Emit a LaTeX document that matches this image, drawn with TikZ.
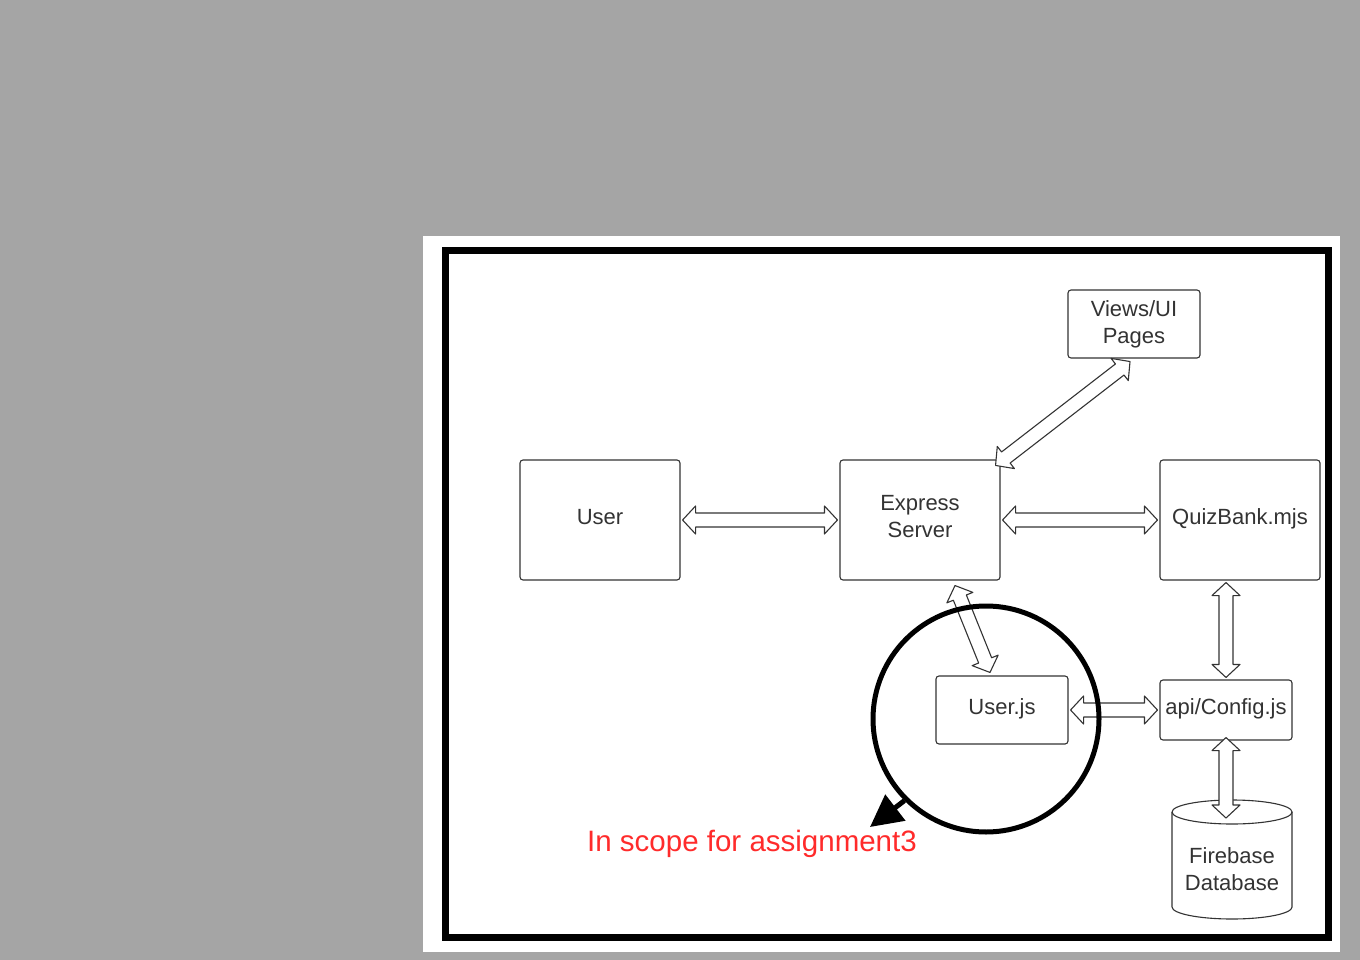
\documentclass[tikz,border=0pt]{standalone}
\usepackage{fontspec}
\setmainfont{Liberation Sans}
\usetikzlibrary{calc,arrows.meta}
\definecolor{bg}{HTML}{A5A5A5}
\definecolor{ink}{HTML}{333333}
\definecolor{redtxt}{HTML}{FF2B2B}
\newcommand\dblarrow[2]{%
  \path (#1) coordinate (da) (#2) coordinate (db);
  \path ($(da)!13pt!(db)$) coordinate (dah) ($(db)!13pt!(da)$) coordinate (dbh);
  \draw[arr] (da) -- ($(dah)!14pt!90:(db)$) -- ($(dah)!7pt!90:(db)$)
    -- ($(dbh)!7pt!-90:(da)$) -- ($(dbh)!14pt!-90:(da)$) -- (db)
    -- ($(dbh)!14pt!90:(da)$) -- ($(dbh)!7pt!90:(da)$)
    -- ($(dah)!7pt!-90:(db)$) -- ($(dah)!14pt!-90:(db)$) -- cycle;}
\tikzset{
  box/.style={draw=ink, line width=1.1pt, rounded corners=3pt, align=center,
    font=\fontsize{22}{27}\selectfont, text=ink, inner sep=1pt},
  arr/.style={draw=ink, line width=1.1pt, fill=white, line join=round},
}
\begin{document}
\begin{tikzpicture}[x=1pt,y=-1pt]
\useasboundingbox (0,0) rectangle (1360,960);
\fill[bg] (0,0) rectangle (1360,960);
\fill[white] (423,236) rectangle (1340,952);
\draw[black, line width=7pt] (445.5,250.5) rectangle (1328,937.5);

\node[box, minimum width=132pt, minimum height=68pt] (views) at (1134,324) {Views/UI\\Pages};
\node[box, minimum width=160pt, minimum height=120pt, text depth=7pt] (user) at (600,520) {User};
\node[box, minimum width=160pt, minimum height=120pt, text depth=7.5pt] (express) at (920,520) {Express\\Server};
\node[box, minimum width=160pt, minimum height=120pt, text depth=6pt] (quiz) at (1240,520) {QuizBank.mjs};
\node[box, minimum width=132pt, minimum height=68pt, text depth=7pt] (userjs) at (1002,710) {User.js};
\node[box, minimum width=132pt, minimum height=60pt, text depth=6pt] (api) at (1226,710) {api/Config.js};
\node[align=center, font=\fontsize{22}{27}\selectfont, text=ink, inner sep=0pt] (fb) at (1232,869) {Firebase\\Database};
\draw[ink, line width=1.1pt] ($(fb.center)+(-60,-57)$) arc[start angle=180, end angle=-180, x radius=60pt, y radius=12pt];
\draw[ink, line width=1.1pt] ($(fb.center)+(-60,-57)$) -- ($(fb.center)+(-60,38)$)
  arc[start angle=180, end angle=360, x radius=60pt, y radius=12pt] -- ($(fb.center)+(60,-57)$);

\coordinate (a1) at ($(user.east)+(2,0)$);
\coordinate (a2) at ($(express.west)+(-2,0)$);
\coordinate (b1) at ($(express.east)+(2,0)$);
\coordinate (b2) at ($(quiz.west)+(-2,0)$);
\coordinate (c1) at ($(views.south)+(-4,3)$);
\coordinate (c2) at ($(express.north east)+(-5,6)$);
\coordinate (d1) at ($(express.south)+(35,5)$);
\coordinate (d2) at ($(userjs.north)+(-12,-3)$);
\coordinate (e1) at ($(quiz.south)+(-14,2)$);
\coordinate (e2) at ($(api.north)+(0,-2)$);
\coordinate (f1) at ($(userjs.east)+(2,0)$);
\coordinate (f2) at ($(api.west)+(-2,0)$);
\coordinate (g1) at ($(api.south)+(0,-3)$);
\coordinate (g2) at ($(fb.center)+(-6,-51)$);

\dblarrow{a1}{a2}
\dblarrow{b1}{b2}
\dblarrow{c1}{c2}
\dblarrow{d1}{d2}
\dblarrow{e1}{e2}
\dblarrow{f1}{f2}
\dblarrow{g1}{g2}

\node[circle, draw=black, line width=5pt, minimum size=226pt, inner sep=0pt] (scope) at (986,719) {};
\coordinate (tipc) at (870,827);
\draw[black, line width=5pt, -{Triangle[length=32pt,width=32pt]}] (scope.225) -- (tipc);

\node[text=redtxt, font=\fontsize{29.5}{34}\selectfont, inner sep=0pt] (scopelabel) at (752,844) {In scope for assignment3};
\end{tikzpicture}
\end{document}
